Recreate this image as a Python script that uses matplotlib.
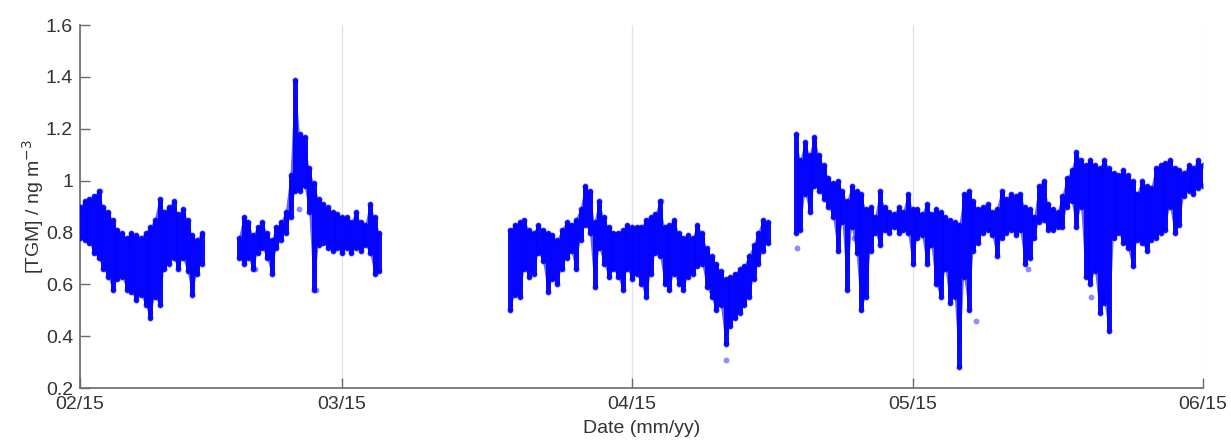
import matplotlib
matplotlib.use("Agg")
import matplotlib.pyplot as plt
import numpy as np

plt.rcParams['font.family'] = ['Liberation Sans', 'DejaVu Sans']

# days since 02/15, half-day steps, upper / lower edge of the scatter band
seg1_day = np.arange(0.0, 13.01, 0.5)
seg1_hi = [0.90, 0.92, 0.93, 0.94, 0.96, 0.90, 0.88, 0.85, 0.81, 0.80, 0.78, 0.80, 0.79, 0.78,
           0.80, 0.82, 0.85, 0.93, 0.88, 0.90, 0.92, 0.87, 0.89, 0.85, 0.79, 0.77, 0.80]
seg1_lo = [0.78, 0.77, 0.76, 0.72, 0.70, 0.66, 0.63, 0.58, 0.62, 0.63, 0.58, 0.57, 0.54, 0.56,
           0.52, 0.47, 0.55, 0.52, 0.66, 0.68, 0.70, 0.66, 0.70, 0.65, 0.56, 0.64, 0.68]

seg2_day = np.arange(17.0, 32.01, 0.5)
seg2_hi = [0.78, 0.86, 0.84, 0.79, 0.82, 0.84, 0.80, 0.77, 0.82, 0.84, 0.88, 1.02, 1.39, 1.18,
           1.17, 1.05, 0.99, 0.93, 0.91, 0.90, 0.88, 0.87, 0.86, 0.86, 0.84, 0.88, 0.84, 0.83,
           0.91, 0.86, 0.80]
seg2_lo = [0.70, 0.68, 0.70, 0.66, 0.72, 0.74, 0.70, 0.64, 0.74, 0.77, 0.80, 0.86, 0.96, 0.96,
           0.98, 0.88, 0.58, 0.75, 0.76, 0.74, 0.73, 0.74, 0.72, 0.74, 0.72, 0.74, 0.73, 0.75,
           0.72, 0.64, 0.65]

seg3_day = np.arange(46.0, 73.51, 0.5)
seg3_hi = [0.81, 0.83, 0.84, 0.85, 0.81, 0.80, 0.83, 0.81, 0.80, 0.79, 0.77, 0.81, 0.84, 0.83,
           0.85, 0.89, 0.98, 0.96, 0.84, 0.92, 0.86, 0.82, 0.80, 0.80, 0.81, 0.83, 0.82, 0.82,
           0.82, 0.85, 0.86, 0.87, 0.92, 0.82, 0.83, 0.85, 0.80, 0.78, 0.79, 0.78, 0.83, 0.80,
           0.74, 0.71, 0.68, 0.65, 0.62, 0.63, 0.64, 0.66, 0.67, 0.71, 0.75, 0.80, 0.85, 0.84]
seg3_lo = [0.50, 0.56, 0.55, 0.66, 0.63, 0.64, 0.72, 0.69, 0.57, 0.62, 0.60, 0.66, 0.70, 0.73,
           0.66, 0.77, 0.83, 0.80, 0.59, 0.74, 0.68, 0.63, 0.66, 0.63, 0.58, 0.66, 0.62, 0.64,
           0.60, 0.55, 0.64, 0.72, 0.71, 0.60, 0.58, 0.64, 0.60, 0.58, 0.63, 0.64, 0.67, 0.68,
           0.59, 0.55, 0.50, 0.52, 0.37, 0.44, 0.47, 0.49, 0.52, 0.55, 0.62, 0.68, 0.73, 0.76]

seg4_day = np.arange(76.5, 120.01, 0.5)
seg4_hi = [1.18, 1.08, 1.15, 1.10, 1.17, 1.10, 1.06, 1.01, 0.99, 1.00, 0.96, 0.92, 0.98, 0.96,
           0.95, 0.89, 0.90, 0.86, 0.96, 0.90, 0.88, 0.87, 0.90, 0.88, 0.95, 0.89, 0.89, 0.87,
           0.91, 0.87, 0.89, 0.88, 0.86, 0.85, 0.84, 0.83, 0.95, 0.96, 0.92, 0.89, 0.90, 0.91,
           0.88, 0.89, 0.96, 0.93, 0.95, 0.94, 0.95, 0.90, 0.89, 0.86, 0.98, 1.00, 0.91, 0.89,
           0.88, 0.94, 1.01, 1.04, 1.11, 1.08, 1.06, 1.08, 1.06, 1.05, 1.08, 1.05, 1.03, 1.02,
           1.04, 1.02, 1.00, 0.95, 1.00, 0.98, 0.97, 1.05, 1.06, 1.07, 1.08, 1.05, 1.04, 1.03,
           1.06, 1.05, 1.08, 1.06]
seg4_lo = [0.80, 0.81, 0.95, 0.88, 0.98, 0.96, 0.93, 0.90, 0.86, 0.73, 0.84, 0.58, 0.82, 0.72,
           0.50, 0.55, 0.73, 0.80, 0.75, 0.81, 0.80, 0.82, 0.80, 0.81, 0.80, 0.68, 0.78, 0.79,
           0.68, 0.75, 0.60, 0.55, 0.66, 0.53, 0.55, 0.28, 0.63, 0.50, 0.73, 0.76, 0.80, 0.81,
           0.79, 0.71, 0.78, 0.80, 0.81, 0.79, 0.81, 0.68, 0.70, 0.78, 0.84, 0.85, 0.81, 0.81,
           0.82, 0.82, 0.90, 0.92, 0.82, 0.90, 0.63, 0.60, 0.65, 0.49, 0.53, 0.42, 0.78, 0.80,
           0.76, 0.74, 0.67, 0.77, 0.76, 0.73, 0.77, 0.78, 0.80, 0.81, 0.90, 0.80, 0.83, 0.94,
           0.96, 0.95, 0.97, 0.98]

# isolated points away from the band
out_day = [2.1, 18.7, 23.4, 25.2, 62.1, 69.1, 76.6, 82.7, 95.8, 101.3, 108.1]
out_val = [0.96, 0.66, 0.89, 0.58, 0.92, 0.31, 0.74, 0.78, 0.46, 0.66, 0.55]

tick_days = [0, 28, 59, 89, 120]
tick_labels = ['02/15', '03/15', '04/15', '05/15', '06/15']

blue = (0, 0, 1)

fig = plt.figure(figsize=(12.31, 4.40), dpi=100)
ax = fig.add_axes([0.065, 0.118, 0.912, 0.825])

segments = [(seg1_day, seg1_hi, seg1_lo), (seg2_day, seg2_hi, seg2_lo),
            (seg3_day, seg3_hi, seg3_lo), (seg4_day, seg4_hi, seg4_lo)]
for d, hi, lo in segments:
    # linear band for continuity, columns for the night-time dips
    ax.fill_between(d, lo, hi, facecolor=blue, edgecolor='none', alpha=0.6, zorder=2)
    ax.vlines(d, lo, hi, color=blue, linewidth=3.6, capstyle='round', alpha=0.95, zorder=3)
    ax.scatter(d, hi, s=20, color=blue, alpha=0.45, linewidths=0, zorder=4)
    ax.scatter(d, lo, s=20, color=blue, alpha=0.45, linewidths=0, zorder=4)
ax.scatter(out_day, out_val, s=18, color=blue, alpha=0.45, linewidths=0, zorder=4)

ax.set_xlim(0, 120)
ax.set_ylim(0.2, 1.6)
ax.set_xticks(tick_days)
ax.set_xticklabels(tick_labels)
ax.set_yticks([0.2, 0.4, 0.6, 0.8, 1.0, 1.2, 1.4, 1.6])
ax.set_yticklabels(['0.2', '0.4', '0.6', '0.8', '1', '1.2', '1.4', '1.6'])
ax.grid(axis='x', color='#e4e4e4', linewidth=0.9, zorder=0)
ax.set_axisbelow(True)

for s in ['top', 'right']:
    ax.spines[s].set_visible(False)
for s in ['left', 'bottom']:
    ax.spines[s].set_color('#6a6a6a')
    ax.spines[s].set_linewidth(1.2)
ax.tick_params(direction='in', length=7, width=1.0, color='#6a6a6a',
               labelsize=14, labelcolor='#333333')
ax.tick_params(axis='x', pad=6)
ax.tick_params(axis='y', pad=5)

ax.set_xlabel('Date (mm/yy)', fontsize=14, color='#333333', labelpad=5)
ax.set_ylabel('[TGM] / ng m$^{-3}$', fontsize=14, color='#333333', labelpad=0)

fig.savefig('out.png', dpi=100)
